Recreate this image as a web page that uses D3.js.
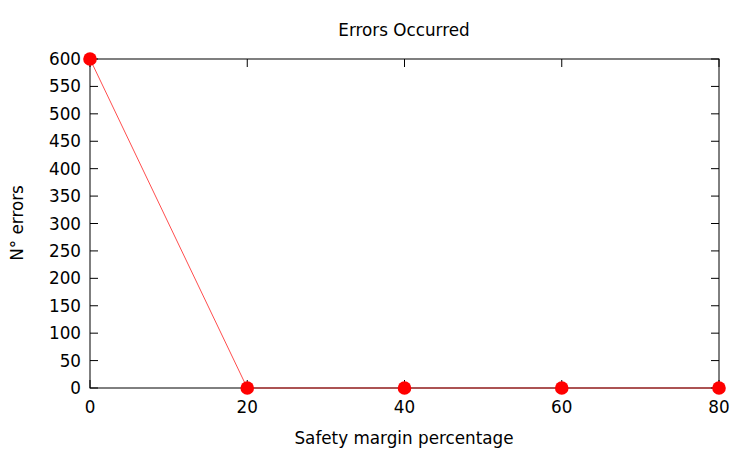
<!DOCTYPE html>
<html><head><meta charset="utf-8">
<script src="https://cdn.jsdelivr.net/npm/d3@7"></script>
<style>body{margin:0;background:#fff}svg{display:block}text{font-family:"DejaVu Sans",sans-serif}</style>
</head><body>
<svg id="c" width="750" height="450"></svg>
<script>
const xValues = [0, 20, 40, 60, 80];
const errors = [600, 0, 0, 0, 0];
const xTicks = [0, 20, 40, 60, 80];
const yTicks = [0, 50, 100, 150, 200, 250, 300, 350, 400, 450, 500, 550, 600];
const title = "Errors Occurred";
const xLabel = "Safety margin percentage";
const yLabel = "N° errors";

const svg = d3.select("#c");
const L = 90, R = 719, T = 59, B = 388;
const x = d3.scaleLinear().domain([0, 80]).range([L, R]);
const y = d3.scaleLinear().domain([0, 600]).range([B, T]);
const tl = 8;
const fs = 16.8;

const g = svg.append("g");
yTicks.forEach(v => {
  g.append("line").attr("x1", L).attr("x2", L + tl).attr("y1", y(v)).attr("y2", y(v)).attr("stroke", "#000").attr("stroke-width", 1);
  g.append("line").attr("x1", R).attr("x2", R - tl).attr("y1", y(v)).attr("y2", y(v)).attr("stroke", "#000").attr("stroke-width", 1);
  g.append("text").attr("x", L - 9).attr("y", y(v)).attr("dy", "0.36em").attr("text-anchor", "end").attr("font-size", fs).text(v);
});
xTicks.forEach(v => {
  g.append("line").attr("x1", x(v)).attr("x2", x(v)).attr("y1", B).attr("y2", B - tl).attr("stroke", "#000").attr("stroke-width", 1);
  g.append("line").attr("x1", x(v)).attr("x2", x(v)).attr("y1", T).attr("y2", T + tl).attr("stroke", "#000").attr("stroke-width", 1);
  g.append("text").attr("x", x(v)).attr("y", B + 25).attr("text-anchor", "middle").attr("font-size", fs).text(v);
});
g.append("rect").attr("x", L).attr("y", T).attr("width", R - L).attr("height", B - T).attr("fill", "none").attr("stroke", "#000").attr("stroke-width", 1);

const line = d3.line().x((d, i) => x(xValues[i])).y(d => y(d));
svg.append("path").datum(errors).attr("d", line).attr("fill", "none").attr("stroke", "#ff0000").attr("stroke-width", 0.7);
svg.selectAll("circle.pt").data(errors).join("circle").attr("class", "pt")
  .attr("cx", (d, i) => x(xValues[i])).attr("cy", d => y(d)).attr("r", 6.8).attr("fill", "#ff0000");

svg.append("text").attr("x", 404).attr("y", 36).attr("text-anchor", "middle").attr("font-size", fs).text(title);
svg.append("text").attr("x", 404).attr("y", 444).attr("text-anchor", "middle").attr("font-size", fs).text(xLabel);
svg.append("text").attr("transform", "translate(23,223) rotate(-90)").attr("text-anchor", "middle").attr("font-size", fs).text(yLabel);
</script>
</body></html>
